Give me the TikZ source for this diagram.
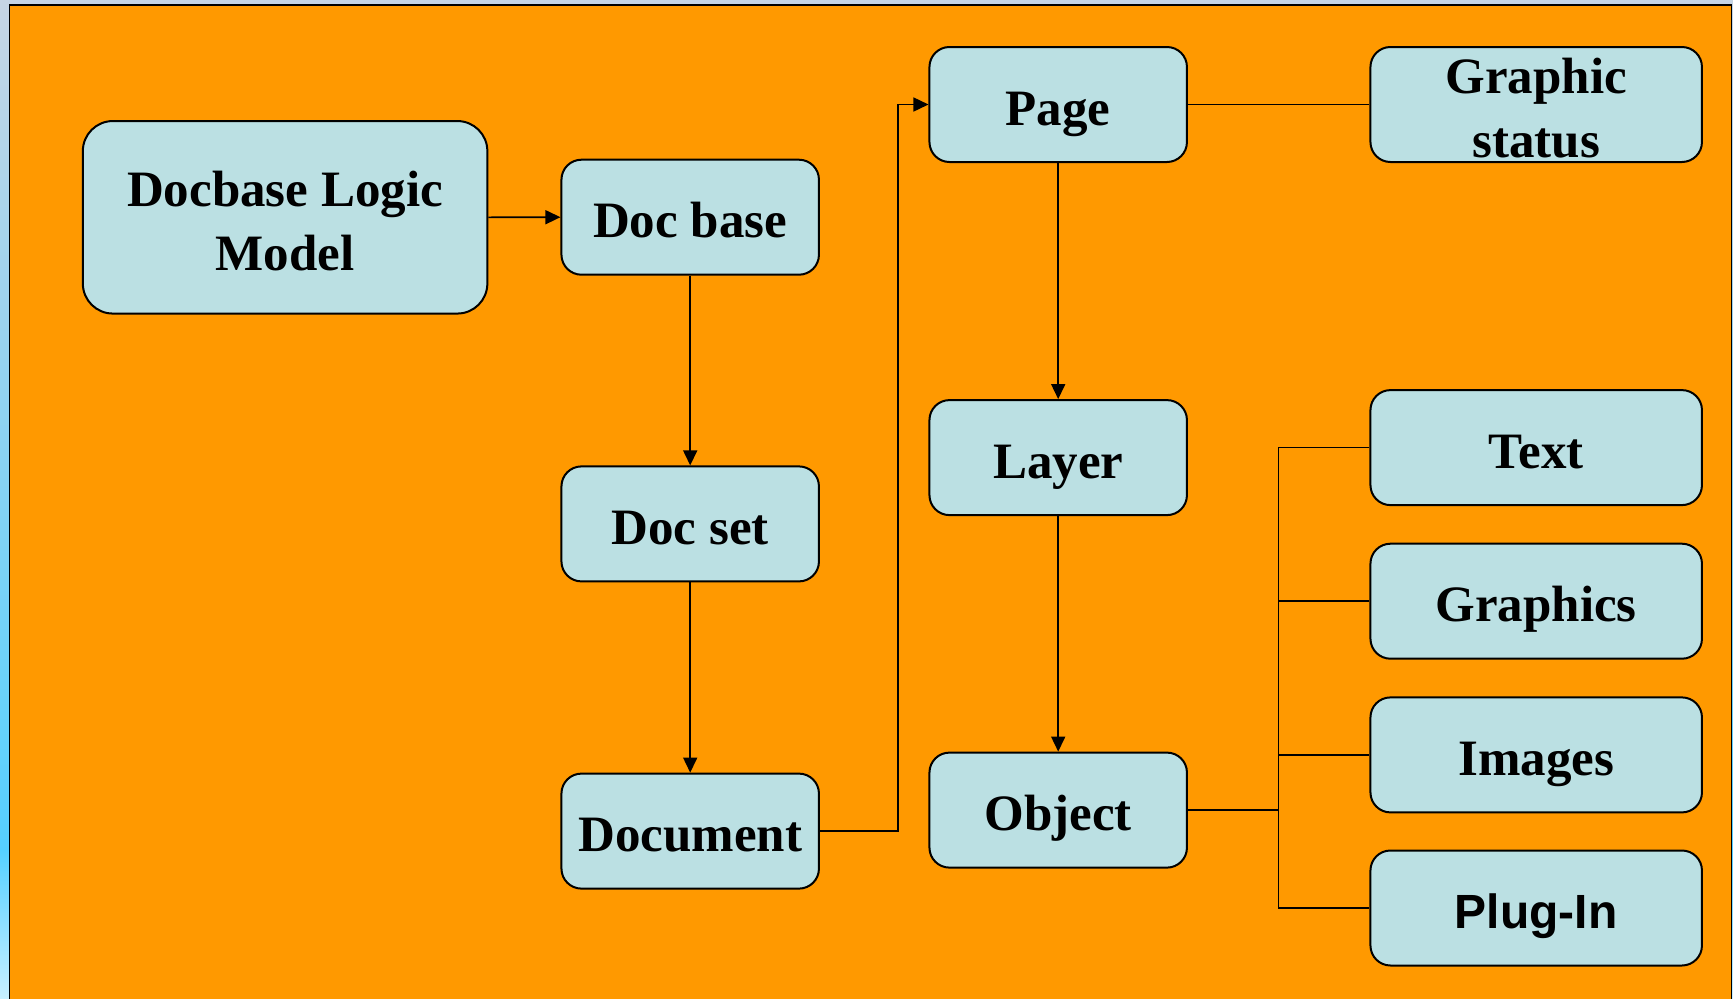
\documentclass[tikz,border=0pt]{standalone}
\usepackage{fontspec}
\setmainfont{Liberation Serif}
\newfontfamily\arialf{Liberation Sans}
\usetikzlibrary{arrows.meta}
\definecolor{orangebg}{RGB}{255,153,0}
\definecolor{boxfill}{RGB}{187,224,227}
\definecolor{frameA}{RGB}{198,213,228}
\definecolor{frameB}{RGB}{85,208,255}
\definecolor{frameC}{RGB}{200,240,255}
\begin{document}
\begin{tikzpicture}[x=1pt,y=-1pt,
  box/.style={draw=black, line width=2pt, fill=boxfill, rounded corners=20pt,
    inner sep=0pt, font=\fontsize{51}{64}\selectfont\bfseries, align=center},
  midbox/.style={box, minimum width=257.5pt, minimum height=115pt},
  rbox/.style={box, minimum width=331.5pt, minimum height=115pt},
  oneline/.style={text height=41pt, text depth=0pt},
  conn/.style={line width=1.6pt},
  arr/.style={conn, -{Triangle[length=15pt,width=14pt]}}]
\useasboundingbox (0,0) rectangle (1733,999);
\shade[top color=frameA, bottom color=frameB] (0,0) rectangle (1733,850);
\shade[top color=frameB, bottom color=frameC] (0,850) rectangle (1733,999);
\draw[fill=orangebg, line width=1.5pt] (9.5,5) rectangle (1731.5,1010);

\node[box, rounded corners=30pt, minimum width=404.5pt, minimum height=192.5pt] (dlm) at (285.1,217.3) {\rule{0pt}{43pt}Docbase Logic\\Model};
\node[midbox, oneline] (docbase) at (690.2,217.2) {Doc base};
\node[midbox, oneline] (docset) at (690.2,523.9) {Doc set};
\node[midbox, oneline] (document) at (690.2,831.1) {Document};
\node[midbox, oneline] (page) at (1058.2,104.5) {Page};
\node[midbox, oneline] (layer) at (1058.2,457.6) {Layer};
\node[midbox, oneline] (object) at (1058.2,810.1) {Object};
\node[rbox] (gstatus) at (1536.2,104.5) {\rule{0pt}{42pt}Graphic\\status};
\node[rbox, oneline] (text) at (1536.2,447.6) {Text};
\node[rbox, oneline] (graphics) at (1536.2,601.2) {Graphics};
\node[rbox, oneline] (images) at (1536.2,754.9) {Images};
\node[rbox, text height=40pt, text depth=0pt, font=\arialf\fontsize{48}{58}\selectfont\bfseries] (plugin) at (1536.2,908) {Plug-In};

\coordinate (j1) at (897.7,0);
\coordinate (j2) at (1278.5,0);

\draw[arr] (dlm.east) -- (docbase.west);
\draw[arr] (docbase) -- (docset);
\draw[arr] (docset) -- (document);
\draw[arr] (document.east) -- (document.east -| j1) -- (page.west -| j1) -- (page.west);
\draw[conn] (page.east) -- (gstatus.west);
\draw[arr] (page) -- (layer);
\draw[arr] (layer) -- (object);
\draw[conn] (object.east) -- (object.east -| j2);
\draw[conn] (text.west) -- (text.west -| j2) -- (plugin.west -| j2) -- (plugin.west);
\draw[conn] (graphics.west) -- (graphics.west -| j2);
\draw[conn] (images.west) -- (images.west -| j2);
\end{tikzpicture}
\end{document}
